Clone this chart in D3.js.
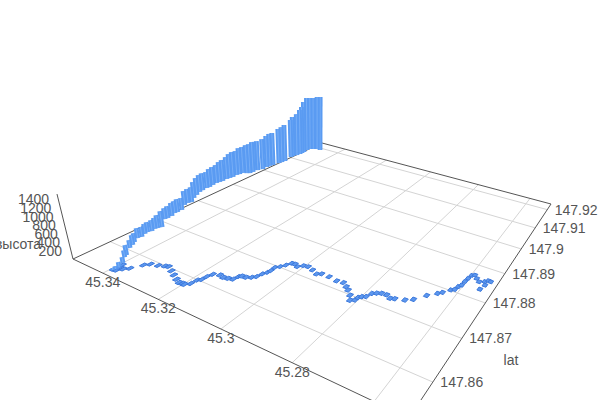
<!DOCTYPE html>
<html>
<head>
<meta charset="utf-8">
<script src="https://cdn.jsdelivr.net/npm/d3@7"></script>
<style>
  body { margin: 0; background: #fff; }
  svg { display: block; }
  text { font-family: "Liberation Sans", Arial, sans-serif; font-size: 14px; fill: #555; }
</style>
</head>
<body>
<svg id="chart" width="600" height="400"></svg>
<script>
// axis ticks
const lonTicks = [45.34, 45.32, 45.3, 45.28, 45.26];
const latTicks = [147.86, 147.87, 147.88, 147.89, 147.9, 147.91, 147.92];
const heightTicks = [200, 400, 600, 800, 1000, 1200, 1400];

// track on the ground
const groundLon = [45.3394,45.3384,45.3389,45.3393,45.3375,45.3364,45.3349,45.3338,45.3317,45.3301,45.3291,45.3270,45.3250,45.3230,45.3214,45.3204,45.3197,45.3187,45.3185,45.3178,45.3177,45.3172,45.3155,45.3140,45.3127,45.3114,45.3111,45.3106,45.3093,45.3081,45.3073,45.3069,45.3063,45.3061,45.3062,45.3053,45.3045,45.3038,45.3028,45.3015,45.3005,45.2991,45.2972,45.2952,45.2941,45.2917,45.2890,45.2871,45.2855,45.2843,45.2827,45.2816,45.2806,45.2805,45.2799,45.2790,45.2785,45.2775,45.2764,45.2750,45.2736,45.2725,45.2701,45.2684,45.2663,45.2643,45.2634,45.2620,45.2612,45.2609,45.2604,45.2603,45.2601,45.2598,45.2591,45.2581,45.2570,45.2557,45.2550,45.2543,45.2551,45.2556];
const groundLat = [147.8548,147.8549,147.8557,147.8564,147.8557,147.8564,147.8582,147.8590,147.8594,147.8599,147.8601,147.8595,147.8589,147.8583,147.8579,147.8580,147.8580,147.8587,147.8599,147.8604,147.8614,147.8624,147.8629,147.8627,147.8629,147.8632,147.8642,147.8646,147.8647,147.8652,147.8658,147.8669,147.8677,147.8684,147.8695,147.8702,147.8711,147.8721,147.8722,147.8718,147.8726,147.8728,147.8724,147.8718,147.8723,147.8723,147.8720,147.8722,147.8715,147.8709,147.8699,147.8688,147.8693,147.8701,147.8706,147.8710,147.8722,147.8727,147.8731,147.8732,147.8727,147.8730,147.8736,147.8745,147.8766,147.8781,147.8788,147.8802,147.8807,147.8818,147.8825,147.8838,147.8850,147.8862,147.8866,147.8858,147.8851,147.8857,147.8863,147.8862,147.8847,147.8831];

// height bars, far end first
const barLon = [45.3476,45.3492,45.3505,45.3515,45.3518,45.3514,45.3513,45.3513,45.3515,45.3521,45.3521,45.3513,45.3515,45.3518,45.3523,45.3526,45.3528,45.3527,45.3535,45.3544,45.3537,45.3539,45.3548,45.3559,45.3562,45.3564,45.3562,45.3565,45.3567,45.3566,45.3568,45.3570,45.3568,45.3565,45.3567,45.3565,45.3562,45.3552,45.3543,45.3526,45.3531,45.3528,45.3509,45.3508,45.3510,45.3502,45.3501,45.3503,45.3471,45.3476,45.3478,45.3475,45.3480,45.3477,45.3470,45.3474,45.3463,45.3454,45.3447,45.3424,45.3419,45.3399,45.3391,45.3390,45.3392];
const barLat = [147.9188,147.9189,147.9183,147.9178,147.9167,147.9151,147.9142,147.9134,147.9123,147.9112,147.9104,147.9074,147.9064,147.9055,147.9037,147.9028,147.9019,147.9004,147.8992,147.8988,147.8977,147.8968,147.8964,147.8959,147.8950,147.8942,147.8929,147.8921,147.8913,147.8900,147.8892,147.8884,147.8872,147.8861,147.8854,147.8841,147.8831,147.8817,147.8804,147.8788,147.8781,147.8771,147.8753,147.8742,147.8736,147.8725,147.8715,147.8709,147.8685,147.8678,147.8673,147.8665,147.8658,147.8651,147.8641,147.8634,147.8622,147.8614,147.8605,147.8587,147.8581,147.8568,147.8557,147.8550,147.8546];
const barHeight = [1777,1750,1715,1713,1737,1659,1525,1455,1353,1283,1214,1164,1128,1092,1021,1016,981,943,908,877,931,897,866,805,801,738,763,730,668,633,601,540,536,533,473,498,495,491,458,425,396,393,333,359,330,355,326,298,423,344,290,289,262,261,259,258,230,254,202,249,174,147,122,73,49];

const svg = d3.select("#chart");

// scales to the unit floor and unit height
const uScale = d3.scaleLinear().domain([45.3518, 45.2523]).range([0, 1]);
const vScale = d3.scaleLinear().domain([147.8532, 147.9234]).range([0, 1]);
const wScale = d3.scaleLinear().domain([0, 1500]).range([0, 1]);

// floor corners on screen, for the perspective camera
const LEFT = [73, 259], BOTTOM = [409, 418], RIGHT = [551, 204], BACK = [322, 143];
// vanishing point of the vertical axis and its strength
const VERT = [317, 1250], VERT_K = -0.0615;

const dx1 = BOTTOM[0] - RIGHT[0], dx2 = BACK[0] - RIGHT[0], sx = LEFT[0] - BOTTOM[0] + RIGHT[0] - BACK[0];
const dy1 = BOTTOM[1] - RIGHT[1], dy2 = BACK[1] - RIGHT[1], sy = LEFT[1] - BOTTOM[1] + RIGHT[1] - BACK[1];
const den = dx1 * dy2 - dx2 * dy1;
const g = (sx * dy2 - dx2 * sy) / den, h = (dx1 * sy - sx * dy1) / den;
const a = BOTTOM[0] - LEFT[0] + g * BOTTOM[0], b = BACK[0] - LEFT[0] + h * BACK[0];
const d = BOTTOM[1] - LEFT[1] + g * BOTTOM[1], e = BACK[1] - LEFT[1] + h * BACK[1];

function project(lon, lat, height) {
  const u = uScale(lon), v = vScale(lat), w = wScale(height || 0) * VERT_K;
  const W = g * u + h * v + 1 + w;
  return [(a * u + b * v + LEFT[0] + w * VERT[0]) / W, (d * u + e * v + LEFT[1] + w * VERT[1]) / W];
}

const [lonA, lonB] = uScale.domain();
const [latA, latB] = vScale.domain();
const line = d3.line();

function drawLine(from, to, color) {
  svg.append("path").attr("d", line([from, to])).attr("fill", "none").attr("stroke", color).attr("stroke-width", 1);
}

// grid
lonTicks.forEach((t) => drawLine(project(t, latA), project(t, latB), "#d4d4d4"));
latTicks.forEach((t) => drawLine(project(lonA, t), project(lonB, t), "#d4d4d4"));

// box edges
const EDGE = "#555";
drawLine(LEFT, BOTTOM, EDGE);
drawLine(BOTTOM, RIGHT, EDGE);
drawLine(LEFT, BACK, EDGE);
drawLine(BACK, RIGHT, EDGE);
drawLine(LEFT, project(lonA, latA, 1500), EDGE);

// ground track
const MARK_LON = 0.00055, MARK_LAT = 0.0005;
svg.append("g").selectAll("path")
  .data(d3.zip(groundLon, groundLat))
  .join("path")
  .attr("d", ([lo, la]) => line([
    project(lo - MARK_LON, la - MARK_LAT),
    project(lo + MARK_LON, la - MARK_LAT),
    project(lo + MARK_LON, la + MARK_LAT),
    project(lo - MARK_LON, la + MARK_LAT),
  ]) + "Z")
  .attr("fill", "#5c97ee")
  .attr("stroke", "#3b78dc")
  .attr("stroke-width", 1);

// height bars
const bars = svg.append("g").selectAll("g")
  .data(d3.zip(barLon, barLat, barHeight))
  .join("g");
bars.append("path")
  .attr("d", ([lo, la, z]) => line([project(lo, la), project(lo, la, z)]))
  .attr("stroke", "#5a9bf2")
  .attr("stroke-width", 4.8);
bars.append("path")
  .attr("d", ([lo, la, z]) => line([project(lo, la), project(lo, la, z)]))
  .attr("stroke", "#7db3f7")
  .attr("stroke-width", 0.8);

// tick labels
svg.append("g").selectAll("text").data(lonTicks.slice(0, 4)).join("text")
  .attr("x", (t) => project(t, latA)[0])
  .attr("y", (t) => project(t, latA)[1] + 14)
  .attr("text-anchor", "middle")
  .text((t) => t);
svg.append("g").selectAll("text").data(latTicks).join("text")
  .attr("x", (t) => project(lonB, t)[0] + 7.5)
  .attr("y", (t) => project(lonB, t)[1] + 5)
  .text((t) => t);
svg.append("g").selectAll("text").data(heightTicks).join("text")
  .attr("x", (t) => project(lonA, latA, t)[0] - 9)
  .attr("y", (t) => project(lonA, latA, t)[1] + 5)
  .attr("text-anchor", "end")
  .text((t) => t);

// axis titles
svg.append("text").attr("x", 18).attr("y", 249).attr("text-anchor", "middle").text("высота");
svg.append("text").attr("x", 511).attr("y", 365).attr("text-anchor", "middle").text("lat");
</script>
</body>
</html>
